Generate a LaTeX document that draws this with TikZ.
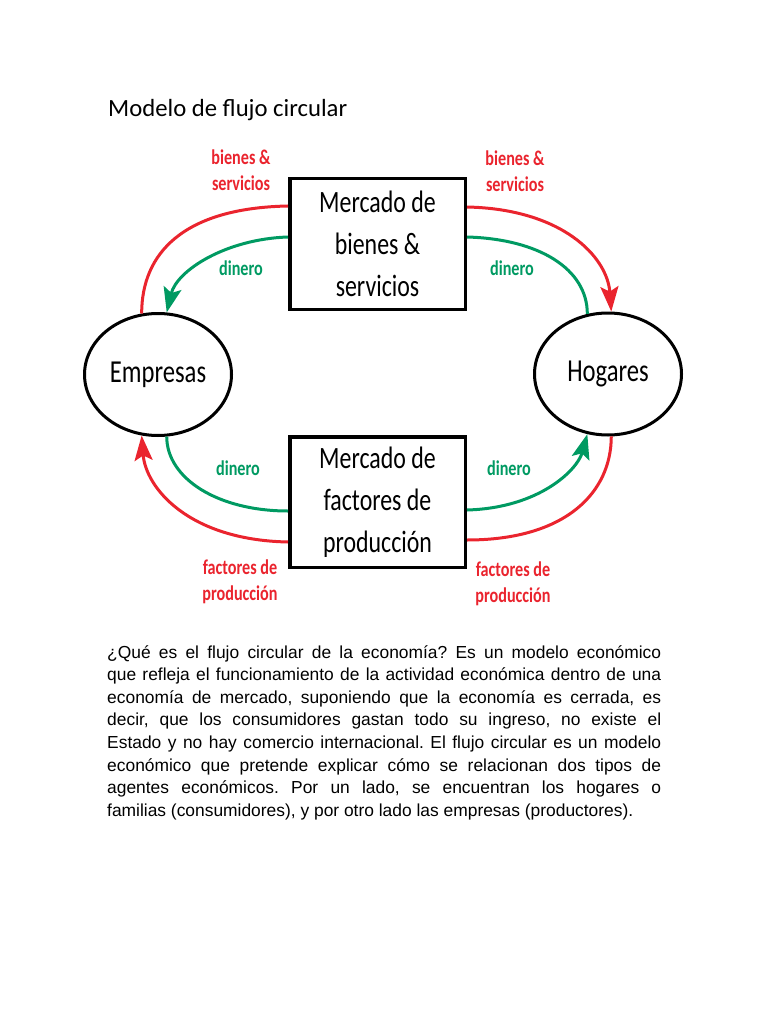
\documentclass[tikz,border=0pt]{standalone}
\usepackage{fontspec}
\setmainfont{Liberation Sans}
\newfontfamily\diagfont[FakeStretch=0.77]{Carlito}
\newfontfamily\titlefont{Carlito}
\usetikzlibrary{arrows.meta,shapes.geometric}
\definecolor{flowred}{RGB}{234,36,46}
\definecolor{flowgreen}{RGB}{0,154,98}
\tikzset{
  market/.style={draw, line width=3.5pt, minimum width=175.5pt, minimum height=130.5pt,
    align=center, inner sep=0pt, font=\diagfont\fontsize{31}{42}\selectfont},
  agent/.style={ellipse, draw, line width=3pt, minimum width=147pt, minimum height=122pt,
    inner sep=0pt, font=\diagfont\fontsize{32}{38}\selectfont},
  goods/.style={flowred, line width=3pt},
  money/.style={flowgreen, line width=3pt},
  flowtip/.style={-{Stealth[length=25pt,width=18pt,inset=5pt]}},
  goodslabel/.style={text=flowred, align=center, inner sep=0pt,
    font=\diagfont\bfseries\fontsize{21}{26}\selectfont},
  moneylabel/.style={text=flowgreen, inner sep=0pt,
    font=\diagfont\bfseries\fontsize{21}{26}\selectfont}
}
\begin{document}
\begin{tikzpicture}[x=1pt,y=-1pt]
    \useasboundingbox (0,0) rectangle (768,1024);
    \node[anchor=base west, inner sep=0pt, font=\titlefont\fontsize{24.7}{30}\selectfont] (titulo) at (108,117) {Modelo de flujo circular};

    \node[market] (bienes) at (377.5,244) {Mercado de\\bienes \&\\servicios};
    \node[market] (factores) at (377.5,502) {Mercado de\\factores de\\producción};
    \node[agent] (empresas) at (158,374.5) {Empresas};
    \node[agent] (hogares) at (608,374) {Hogares};

    \draw[goods] ([yshift=38pt]bienes.west) .. controls +(-105,2) and +(0,-60) .. (empresas.105);
    \draw[goods, flowtip] ([yshift=37pt]bienes.east) .. controls +(95,2) and +(-4,-55) .. (hogares.87);
    \draw[money, flowtip] ([yshift=7pt]bienes.west) .. controls +(-62,2) and +(10,-42) .. (empresas.82);
    \draw[money] ([yshift=7pt]bienes.east) .. controls +(72,2) and +(0,-45) .. (hogares.109);

    \draw[money] (empresas.278) .. controls +(0,42) and +(-70,0) .. ([yshift=-9pt]factores.west);
    \draw[goods, flowtip] ([yshift=-40pt]factores.west) .. controls +(-100,-2) and +(4,52) .. (empresas.255);
    \draw[money, flowtip] ([yshift=-8pt]factores.east) .. controls +(72,-2) and +(-10,36) .. (hogares.251);
    \draw[goods] (hogares.273) .. controls +(0,55) and +(100,0) .. ([yshift=-38pt]factores.east);

    \node[goodslabel] (bs1) at (241,170) {bienes \&\\servicios};
    \node[goodslabel] (bs2) at (515,171) {bienes \&\\servicios};
    \node[moneylabel] (d1) at (241,268) {dinero};
    \node[moneylabel] (d2) at (512,268) {dinero};
    \node[moneylabel] (d3) at (238,468) {dinero};
    \node[moneylabel] (d4) at (509,468) {dinero};
    \node[goodslabel] (fp1) at (240,582) {factores de\\producción};
    \node[goodslabel] (fp2) at (513,584) {factores de\\producción};

    \node[anchor=base west, text width=554pt, align=justify, inner sep=0pt,
      font=\fontsize{17.4}{22.6}\selectfont] (texto) at (107,658) {\hyphenpenalty=10000\frenchspacing
      ¿Qué es el flujo circular de la economía? Es un modelo económico\linebreak
      que refleja el funcionamiento de la actividad económica dentro de una\linebreak
      economía de mercado, suponiendo que la economía es cerrada, es\linebreak
      decir, que los consumidores gastan todo su ingreso, no existe el\linebreak
      Estado y no hay comercio internacional. El flujo circular es un modelo\linebreak
      económico que pretende explicar cómo se relacionan dos tipos de\linebreak
      agentes económicos. Por un lado, se encuentran los hogares o\linebreak
      familias (consumidores), y por otro lado las empresas (productores).};
\end{tikzpicture}
\end{document}
